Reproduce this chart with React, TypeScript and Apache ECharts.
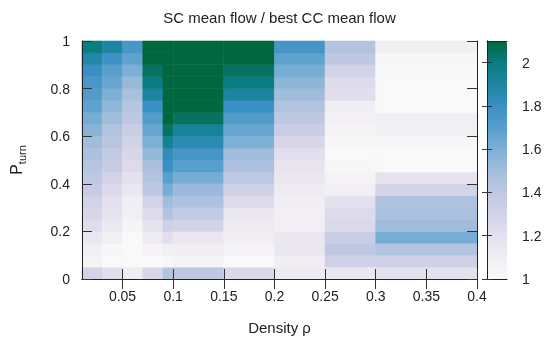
import { useEffect, useRef } from "react";
import * as echarts from "echarts";

// Cell edges
const xEdges = [0.01, 0.03, 0.05, 0.07, 0.09, 0.1, 0.15, 0.2, 0.25, 0.3, 0.4];
const yEdges = [0, 0.05, 0.1, 0.15, 0.2, 0.25, 0.3, 0.35, 0.4, 0.45, 0.5, 0.55, 0.6, 0.65, 0.7, 0.75, 0.8, 0.85, 0.9, 0.95, 1];

// Values per column, listed from y = 0 (bottom) to y = 1 (top)
const col0 = [1.3, 1.05, 1.08, 1.15, 1.23, 1.27, 1.3, 1.36, 1.4, 1.43, 1.47, 1.5, 1.57, 1.62, 1.68, 1.72, 1.75, 1.8, 1.88, 2.0];
const col1 = [1.22, 1.0, 1.02, 1.08, 1.14, 1.18, 1.2, 1.25, 1.3, 1.36, 1.38, 1.42, 1.45, 1.5, 1.55, 1.6, 1.66, 1.7, 1.78, 1.9];
const col2 = [1.1, 1.0, 1.0, 1.0, 1.04, 1.08, 1.1, 1.15, 1.2, 1.25, 1.27, 1.3, 1.35, 1.4, 1.43, 1.47, 1.53, 1.6, 1.68, 1.75];
const col3 = [1.27, 1.0, 1.05, 1.12, 1.18, 1.25, 1.3, 1.4, 1.44, 1.47, 1.54, 1.6, 1.66, 1.72, 1.8, 1.9, 2.0, 2.05, 2.1, 2.1];
const col4 = [1.44, 1.02, 1.08, 1.22, 1.33, 1.44, 1.5, 1.62, 1.7, 1.8, 1.83, 1.95, 2.05, 2.1, 2.1, 2.1, 2.1, 2.1, 2.1, 2.1];
const col5 = [1.4, 1.05, 1.1, 1.15, 1.3, 1.38, 1.46, 1.52, 1.62, 1.7, 1.76, 1.85, 1.93, 2.05, 2.1, 2.1, 2.1, 2.1, 2.1, 2.1];
const col6 = [1.26, 1.0, 1.05, 1.1, 1.12, 1.15, 1.25, 1.32, 1.4, 1.46, 1.5, 1.6, 1.66, 1.72, 1.8, 1.9, 2.0, 2.05, 2.1, 2.1];
const col7 = [1.13, 1.1, 1.15, 1.15, 1.08, 1.08, 1.1, 1.12, 1.15, 1.17, 1.22, 1.27, 1.35, 1.4, 1.45, 1.5, 1.56, 1.62, 1.68, 1.76];
const col8 = [1.15, 1.32, 1.4, 1.35, 1.26, 1.25, 1.2, 1.08, 1.05, 1.02, 1.0, 1.02, 1.05, 1.07, 1.1, 1.22, 1.24, 1.3, 1.4, 1.44];
const col9 = [1.2, 1.32, 1.44, 1.62, 1.5, 1.47, 1.46, 1.3, 1.18, 1.0, 1.0, 1.02, 1.08, 1.08, 1.0, 1.0, 1.0, 1.0, 1.02, 1.08];
const columns = [col0, col1, col2, col3, col4, col5, col6, col7, col8, col9];

const xTicks = [0.05, 0.1, 0.15, 0.2, 0.25, 0.3, 0.35, 0.4];
const yTicks = [0, 0.2, 0.4, 0.6, 0.8, 1];
const cbTicks = [1, 1.2, 1.4, 1.6, 1.8, 2];
const cbMin = 1;
const cbMax = 2.1;
const palette = [
  "#f9f9f9", "#f0edf3", "#e4e1ee", "#d3d3e8", "#bfc8e2", "#a2bddc",
  "#7eb0d6", "#589fcc", "#3a8fc4", "#1c86a2", "#0a7d80", "#01673f",
];

const titleText = "SC mean flow / best CC mean flow";
const xName = "Density ρ";

const FONT = "Liberation Sans";
const GRID = { left: 82, top: 41, width: 395, height: 238 };
const CB = { left: 487, top: 41, width: 20, height: 238 };

export default function App() {
  const ref = useRef<HTMLDivElement>(null);
  useEffect(() => {
    if (!ref.current) return;
    const chart = echarts.init(ref.current, undefined, { renderer: "svg" });
    const data: number[][] = [];
    columns.forEach((col, i) => {
      col.forEach((v, j) => {
        data.push([xEdges[i], xEdges[i + 1], yEdges[j], yEdges[j + 1], v]);
      });
    });
    const tickStyle = { color: "#333", width: 1 };
    const lineStyle = { color: "#222", width: 1 };
    const labelStyle = { fontFamily: FONT, fontSize: 14, color: "#222" };
    chart.setOption({
      animation: false,
      textStyle: { fontFamily: FONT },
      grid: [
        { ...GRID },
        { ...CB },
      ],
      xAxis: [
        {
          type: "value", gridIndex: 0, min: xEdges[0], max: xEdges[xEdges.length - 1], position: "bottom", z: 10,
          axisLine: { show: true, lineStyle },
          axisTick: { show: true, inside: true, length: 10, lineStyle: tickStyle, customValues: xTicks },
          axisLabel: { ...labelStyle, margin: 10, customValues: xTicks },
          splitLine: { show: false },
        },
        {
          type: "value", gridIndex: 0, min: xEdges[0], max: xEdges[xEdges.length - 1], position: "top", z: 10,
          axisLine: { show: true, lineStyle },
          axisTick: { show: true, inside: true, length: 10, lineStyle: tickStyle, customValues: xTicks },
          axisLabel: { show: false },
          splitLine: { show: false },
        },
        {
          type: "value", gridIndex: 1, min: 0, max: 1, position: "bottom", z: 10,
          axisLine: { show: true, lineStyle }, axisTick: { show: false }, axisLabel: { show: false }, splitLine: { show: false },
        },
        {
          type: "value", gridIndex: 1, min: 0, max: 1, position: "top", z: 10,
          axisLine: { show: true, lineStyle }, axisTick: { show: false }, axisLabel: { show: false }, splitLine: { show: false },
        },
      ],
      yAxis: [
        {
          type: "value", gridIndex: 0, min: 0, max: 1, position: "left", z: 10,
          axisLine: { show: true, lineStyle },
          axisTick: { show: true, inside: true, length: 10, lineStyle: tickStyle, customValues: yTicks },
          axisLabel: { ...labelStyle, margin: 12, customValues: yTicks },
          splitLine: { show: false },
        },
        {
          type: "value", gridIndex: 0, min: 0, max: 1, position: "right", z: 10,
          axisLine: { show: true, lineStyle },
          axisTick: { show: true, inside: true, length: 10, lineStyle: tickStyle, customValues: yTicks },
          axisLabel: { show: false },
          splitLine: { show: false },
        },
        {
          type: "value", gridIndex: 1, min: cbMin, max: cbMax, position: "right", z: 10,
          axisLine: { show: true, lineStyle },
          axisTick: { show: true, inside: true, length: 5, lineStyle: tickStyle, customValues: cbTicks },
          axisLabel: { ...labelStyle, margin: 15, customValues: cbTicks },
          splitLine: { show: false },
        },
        {
          type: "value", gridIndex: 1, min: cbMin, max: cbMax, position: "left", z: 10,
          axisLine: { show: true, lineStyle },
          axisTick: { show: true, inside: true, length: 5, lineStyle: tickStyle, customValues: cbTicks },
          axisLabel: { show: false },
          splitLine: { show: false },
        },
      ],
      visualMap: {
        type: "continuous",
        min: cbMin,
        max: cbMax,
        dimension: 4,
        seriesIndex: 0,
        calculable: false,
        hoverLink: false,
        show: true,
        orient: "vertical",
        left: CB.left,
        top: CB.top,
        itemWidth: CB.width,
        itemHeight: CB.height,
        padding: 0,
        text: null,
        inRange: { color: palette },
      },
      graphic: [
        {
          type: "text", x: GRID.left + GRID.width / 2, y: 10, z: 20,
          style: { text: titleText, fontFamily: FONT, fontSize: 15, fill: "#222", textAlign: "center" },
        },
        {
          type: "text", x: GRID.left + GRID.width / 2, y: 320, z: 20,
          style: { text: xName, fontFamily: FONT, fontSize: 15, fill: "#222", textAlign: "center" },
        },
        {
          type: "text", x: 16, y: GRID.top + GRID.height / 2, rotation: Math.PI / 2, z: 20,
          style: {
            text: "{p|P}{s|turn}",
            textAlign: "center",
            textVerticalAlign: "middle",
            rich: {
              p: { fontFamily: FONT, fontSize: 16, fill: "#222", lineHeight: 22, verticalAlign: "middle" },
              s: { fontFamily: FONT, fontSize: 11, fill: "#222", verticalAlign: "bottom" },
            },
          },
        },
      ],
      series: [
        {
          type: "custom",
          xAxisIndex: 0,
          yAxisIndex: 0,
          encode: { x: [0, 1], y: [2, 3] },
          data,
          renderItem: (_params: any, api: any) => {
            const p0 = api.coord([api.value(0), api.value(3)]);
            const p1 = api.coord([api.value(1), api.value(2)]);
            const c = api.visual("color");
            return {
              type: "rect",
              shape: { x: p0[0], y: p0[1], width: p1[0] - p0[0], height: p1[1] - p0[1] },
              style: { fill: c, stroke: c, lineWidth: 0.6 },
            };
          },
        },
      ],
    });
    return () => chart.dispose();
  }, []);
  return <div ref={ref} style={{ position: "fixed", left: 0, top: 0, width: 545, height: 344 }} />;
}
